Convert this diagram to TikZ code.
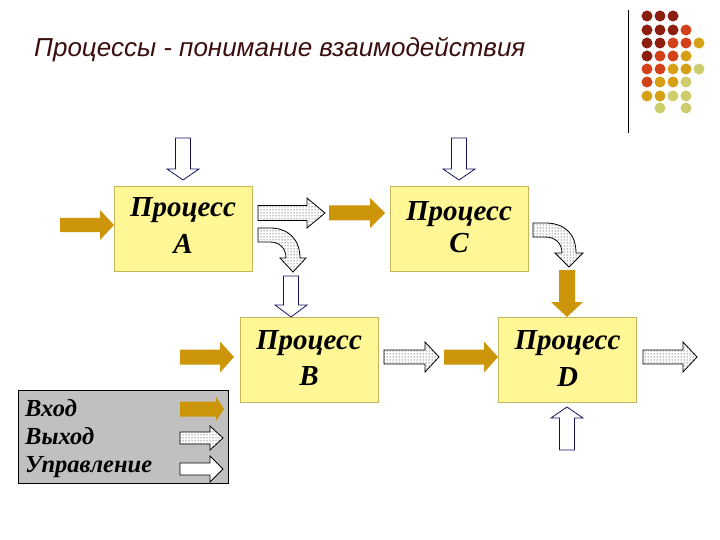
\documentclass[tikz,border=0pt]{standalone}
\usepackage{fontspec}
\setmainfont{Liberation Serif}
\newfontfamily\titlefont{Liberation Sans}
\usetikzlibrary{patterns}
\definecolor{goldarr}{RGB}{205,150,10}
\definecolor{boxfill}{RGB}{255,246,150}
\definecolor{boxline}{RGB}{200,180,90}
\definecolor{navyline}{RGB}{20,20,100}
\definecolor{titlecol}{RGB}{60,15,15}
\definecolor{legfill}{RGB}{192,192,192}
\definecolor{dr}{RGB}{140,30,15}
\definecolor{orr}{RGB}{210,65,25}
\definecolor{gd}{RGB}{215,160,20}
\definecolor{kh}{RGB}{205,205,110}
% horizontal block arrow: [style]{x0}{xhead}{xtip}{yc}{shaft half}{head half}
\newcommand{\harr}[7][]{\draw[#1] (#2,#5-#6) -- (#3,#5-#6) -- (#3,#5-#7) -- (#4,#5) -- (#3,#5+#7) -- (#3,#5+#6) -- (#2,#5+#6) -- cycle;}
% vertical block arrow: [style]{y0}{yhead}{ytip}{xc}{shaft half}{head half}
\newcommand{\varr}[7][]{\draw[#1] (#5-#6,#2) -- (#5+#6,#2) -- (#5+#6,#3) -- (#5+#7,#3) -- (#5,#4) -- (#5-#7,#3) -- (#5-#6,#3) -- cycle;}
\tikzset{
  proc/.style={draw=boxline, fill=boxfill, line width=0.8pt, minimum width=138pt, minimum height=85pt, inner sep=0pt},
  ptext/.style={anchor=base, inner sep=0pt, font=\fontsize{29}{32}\selectfont\bfseries\itshape},
  ltext/.style={anchor=base west, inner sep=0pt, font=\fontsize{24.5}{28}\selectfont\bfseries\itshape},
  inarr/.style={fill=goldarr, draw=none},
  outarr/.style={draw=black, line width=0.8pt, preaction={fill=white}, pattern=dots, pattern color=black},
  ctlarr/.style={draw=navyline, fill=white, line width=0.8pt},
  dot/.style={circle, inner sep=0pt, minimum size=11pt}
}
\begin{document}
\begin{tikzpicture}[x=1pt,y=-1pt]
\useasboundingbox (0,0) rectangle (720,540);
% title
\node[anchor=base west, inner sep=0pt, text=titlecol, font=\titlefont\fontsize{26}{30}\selectfont\itshape] (title) at (34,57) {Процессы - понимание взаимодействия};
% decoration
\draw[black, line width=1pt] (628,10) -- (628,133);
\foreach \x/\y/\c in {647/16/dr,660/16/dr,673/16/dr,
  647/30/dr,660/30/dr,673/30/dr,686/30/orr,
  647/43/dr,660/43/dr,673/43/orr,686/43/orr,699/43/gd,
  647/56/dr,660/56/orr,673/56/orr,686/56/gd,
  647/69/orr,660/69/orr,673/69/gd,686/69/gd,699/69/kh,
  647/82/orr,660/82/gd,673/82/gd,686/82/kh,
  647/96/gd,660/96/gd,673/96/kh,686/96/kh,
  660/108/kh,686/108/kh}
  \node[dot, fill=\c] at (\x,\y) {};
% process boxes
\node[proc] (A) at (183,228.5) {};
\node[proc] (C) at (459,228.5) {};
\node[proc] (B) at (309,360) {};
\node[proc] (D) at (567.5,360) {};
\node[ptext] (At) at (183,217) {Процесс};
\node[ptext] (Al) at (183,254) {A};
\node[ptext] (Ct) at (459,221) {Процесс};
\node[ptext] (Cl) at (459,252) {C};
\node[ptext] (Bt) at (309,349) {Процесс};
\node[ptext] (Bl) at (309,385) {B};
\node[ptext] (Dt) at (567.5,349) {Процесс};
\node[ptext] (Dl) at (567.5,386) {D};
% control arrows
\varr[ctlarr]{138}{169}{180}{183}{7.5}{16}
\varr[ctlarr]{138}{169}{180}{459}{7.5}{16}
\varr[ctlarr]{276}{305}{317}{291}{7.5}{16}
\varr[ctlarr]{450}{418}{407}{567}{7.5}{16}
% input arrows
\harr[inarr]{60}{100}{114}{225}{7}{15}
\harr[inarr]{329}{370}{385}{213}{7.5}{15}
\harr[inarr]{180}{220}{234}{357}{7.5}{15.5}
\harr[inarr]{444}{484}{498}{357}{7.5}{15.5}
\varr[inarr]{270}{302}{317}{567}{8}{16}
% output arrows
\harr[outarr]{258}{307}{325}{213}{7.5}{15}
\harr[outarr]{384}{425}{439}{357}{7}{15}
\harr[outarr]{643}{683}{697}{357}{7}{15}
\draw[outarr] (258,228) -- (270,228) .. controls (289,228) and (300,240) .. (300,258) -- (306,258) -- (293,272) -- (280,258) -- (286,258) .. controls (286,248) and (279,242) .. (270,242) -- (258,242) -- cycle;
\draw[outarr] (533,223) -- (545,223) .. controls (565,223) and (576,234) .. (576,253) -- (583,253) -- (569,267) -- (555,253) -- (562,253) .. controls (562,243) and (555,237) .. (545,237) -- (533,237) -- cycle;
% legend
\node[draw=black, fill=legfill, line width=0.8pt, minimum width=210pt, minimum height=93pt, inner sep=0pt] (legend) at (123,436.5) {};
\node[ltext] (l1) at (25,416) {Вход};
\node[ltext] (l2) at (25,444) {Выход};
\node[ltext] (l3) at (25,472) {Управление};
\harr[inarr]{180}{216}{224}{409}{7.5}{12}
\harr[outarr]{180}{210}{223}{438}{6}{12}
\harr[ctlarr, draw=black]{180}{210}{223}{469}{6}{13}
\end{tikzpicture}
\end{document}
